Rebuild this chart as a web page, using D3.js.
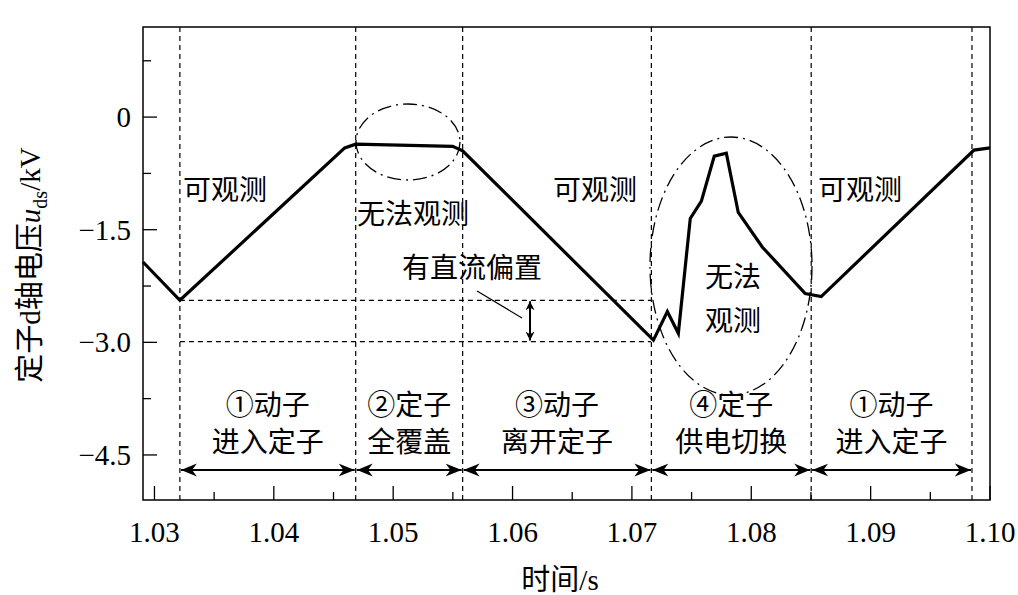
<!DOCTYPE html>
<html><head><meta charset="utf-8">
<script src="https://cdn.jsdelivr.net/npm/d3@7"></script>
<style>body{margin:0;background:#fff}text{font-family:"Times New Roman","Liberation Serif","DejaVu Serif","Noto Sans CJK SC",serif;fill:#000}</style>
</head><body><svg id="c" width="1018" height="595"></svg>
<script>
const times=[1.02904,1.03213,1.04594,1.04686,1.05498,1.05582,1.07180,1.07297,1.07389,1.07489,1.07582,1.07690,1.07791,1.07891,1.08092,1.08452,1.08586,1.09866,1.10];
const volts=[-1.93,-2.44,-0.41,-0.36,-0.39,-0.45,-2.97,-2.59,-2.88,-1.35,-1.12,-0.52,-0.48,-1.27,-1.73,-2.35,-2.39,-0.44,-0.41];
const xTicks=[1.03,1.04,1.05,1.06,1.07,1.08,1.09,1.10];
const yTicks=[0,-1.5,-3.0,-4.5];
const boundaries=[1.03213,1.04686,1.05582,1.07163,1.08502,1.09849];
const phaseTop=["①动子","②定子","③动子","④定子","①动子"];
const phaseBot=["进入定子","全覆盖","离开定子","供电切换","进入定子"];
const offsetLevels=[-2.44,-2.99];

const svg=d3.select("#c");
const L=143,R=990,T=27,B=500;
const x=d3.scaleLinear().domain([1.02904,1.10]).range([L,R]);
const y=d3.scaleLinear().domain([1.2,-5.1]).range([T,B]);
const g=svg.append("g");
g.append("rect").attr("x",L).attr("y",T).attr("width",R-L).attr("height",B-T).attr("fill","none").attr("stroke","#000").attr("stroke-width",1.5);
const xAll=d3.range(0,15).map(i=>1.03+i*0.005);
g.selectAll(".xt").data(xAll).join("line").attr("x1",d=>x(d)).attr("x2",d=>x(d)).attr("y1",B).attr("y2",(d,i)=>B-(i%2?8:14)).attr("stroke","#000").attr("stroke-width",1.3);
g.selectAll(".xl").data(xTicks).join("text").attr("x",d=>x(d)).attr("y",B+42).attr("text-anchor","middle").attr("font-size",29).text(d=>d.toFixed(2));
const yAll=d3.range(0,9).map(i=>0.75-i*0.75).filter(v=>v>-5.1);
g.selectAll(".yt").data(yAll).join("line").attr("x1",L).attr("x2",(d,i)=>L+(i%2?14:8)).attr("y1",d=>y(d)).attr("y2",d=>y(d)).attr("stroke","#000").attr("stroke-width",1.3);
g.selectAll(".yl").data(yTicks).join("text").attr("x",L-12).attr("y",d=>y(d)+10).attr("text-anchor","end").attr("font-size",29).text(d=>d===0?"0":d.toFixed(1).replace("-","−"));
svg.append("text").attr("x",560).attr("y",590).attr("text-anchor","middle").attr("font-size",29).text("时间/s");
const yl=svg.append("text").attr("transform","translate(40,265) rotate(-90)").attr("text-anchor","middle").attr("font-size",29);
yl.append("tspan").text("定子d轴电压");
yl.append("tspan").attr("font-style","italic").text("u");
yl.append("tspan").attr("font-size",20).attr("dy",7).text("ds");
yl.append("tspan").attr("dy",-7).text("/kV");
g.selectAll(".bd").data(boundaries).join("line").attr("x1",d=>x(d)).attr("x2",d=>x(d)).attr("y1",T).attr("y2",B).attr("stroke","#000").attr("stroke-width",1.2).attr("stroke-dasharray","5,4");
g.selectAll(".hd").data(offsetLevels).join("line").attr("x1",x(boundaries[0])).attr("x2",x(1.0716)).attr("y1",d=>y(d)).attr("y2",d=>y(d)).attr("stroke","#000").attr("stroke-width",1.2).attr("stroke-dasharray","5,4");
g.append("path").datum(times.map((t,i)=>[t,volts[i]])).attr("d",d3.line().x(d=>x(d[0])).y(d=>y(d[1]))).attr("fill","none").attr("stroke","#000").attr("stroke-width",3.2);
g.append("ellipse").attr("cx",408).attr("cy",142).attr("rx",52).attr("ry",38).attr("fill","none").attr("stroke","#000").attr("stroke-width",1.3).attr("stroke-dasharray","14,5,2,5");
g.append("ellipse").attr("cx",731).attr("cy",266).attr("rx",81).attr("ry",129).attr("fill","none").attr("stroke","#000").attr("stroke-width",1.3).attr("stroke-dasharray","14,5,2,5");
const ann=[["可观测",225,200],["无法观测",413,224],["有直流偏置",472,278],["可观测",595,200],["无法",733,287],["观测",733,331],["可观测",860,200]];
g.selectAll(".an").data(ann).join("text").attr("x",d=>d[1]).attr("y",d=>d[2]).attr("text-anchor","middle").attr("font-size",28).text(d=>d[0]);
const defs=svg.append("defs");
defs.append("marker").attr("id","ah").attr("viewBox","0 0 10 10").attr("refX",10).attr("refY",5).attr("markerWidth",9).attr("markerHeight",9).attr("orient","auto-start-reverse").attr("markerUnits","userSpaceOnUse").append("path").attr("d","M0,0L10,5L0,10L3,5Z").attr("fill","#000");
defs.append("marker").attr("id","ah2").attr("viewBox","0 0 10 10").attr("refX",10).attr("refY",5).attr("markerWidth",16).attr("markerHeight",16).attr("orient","auto-start-reverse").attr("markerUnits","userSpaceOnUse").append("path").attr("d","M0,1L10,5L0,9L3,5Z").attr("fill","#000");
g.append("line").attr("x1",477).attr("y1",291).attr("x2",522).attr("y2",318).attr("stroke","#000").attr("stroke-width",1.2);
g.append("line").attr("x1",530).attr("x2",530).attr("y1",y(-2.44)+1).attr("y2",y(-2.99)-1).attr("stroke","#000").attr("stroke-width",2).attr("marker-start","url(#ah)").attr("marker-end","url(#ah)");
const mids=d3.range(5).map(i=>(boundaries[i]+boundaries[i+1])/2);
g.selectAll(".pt").data(phaseTop).join("text").attr("x",(d,i)=>x(mids[i])).attr("y",415).attr("text-anchor","middle").attr("font-size",28).text(d=>d);
g.selectAll(".pb").data(phaseBot).join("text").attr("x",(d,i)=>x(mids[i])).attr("y",452).attr("text-anchor","middle").attr("font-size",28).text(d=>d);
g.selectAll(".pa").data(d3.range(5)).join("line").attr("x1",i=>x(boundaries[i])+1).attr("x2",i=>x(boundaries[i+1])-1).attr("y1",470).attr("y2",470).attr("stroke","#000").attr("stroke-width",2).attr("marker-start","url(#ah2)").attr("marker-end","url(#ah2)");
</script></body></html>
